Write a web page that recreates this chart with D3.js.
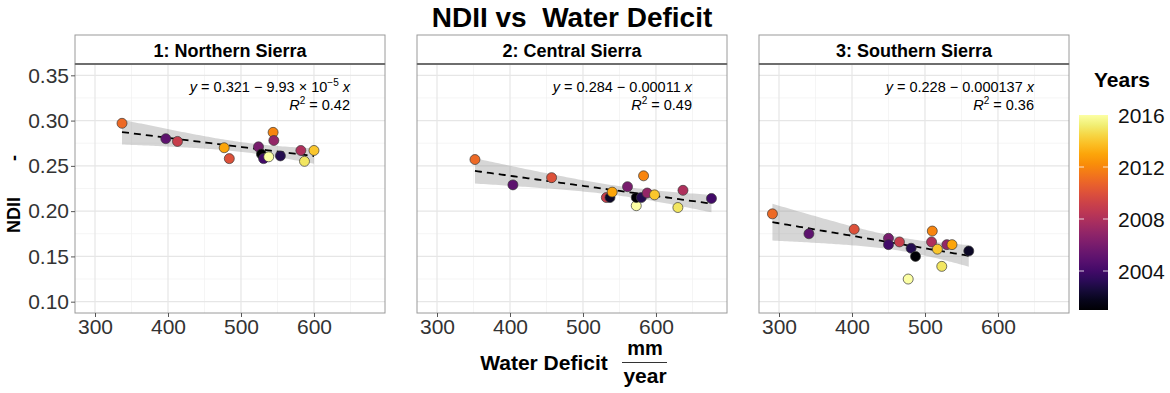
<!DOCTYPE html>
<html>
<head>
<meta charset="utf-8">
<script src="https://cdn.jsdelivr.net/npm/d3@7"></script>
<style>
  body { margin: 0; background: #fff; }
  text { font-family: "Liberation Sans", Arial, sans-serif; }
</style>
</head>
<body>
<div id="chart"></div>
<script>
// Data
var regions = ["1: Northern Sierra", "2: Central Sierra", "3: Southern Sierra"];

var deficit1 = [337, 397, 413, 477, 484, 524, 528, 531, 538, 544, 545, 554, 582, 587, 600];
var ndii1    = [0.297, 0.280, 0.277, 0.270, 0.258, 0.271, 0.263, 0.258, 0.260, 0.287, 0.278, 0.261, 0.267, 0.255, 0.267];
var year1    = [2011, 2005, 2009, 2013, 2010, 2006, 2001, 2004, 2016, 2012, 2007, 2003, 2008, 2015, 2014];

var deficit2 = [352, 404, 457, 532, 537, 540, 561, 573, 573, 580, 583, 588, 598, 630, 637, 676];
var ndii2    = [0.257, 0.229, 0.237, 0.215, 0.215, 0.221, 0.227, 0.206, 0.215, 0.215, 0.239, 0.220, 0.218, 0.204, 0.223, 0.214];
var year2    = [2011, 2005, 2010, 2009, 2002, 2013, 2006, 2016, 2001, 2003, 2012, 2007, 2014, 2015, 2008, 2004];

var deficit3 = [291, 341, 403, 450, 450, 465, 477, 481, 487, 509, 510, 517, 523, 530, 537, 560];
var ndii3    = [0.197, 0.175, 0.180, 0.170, 0.163, 0.166, 0.125, 0.159, 0.150, 0.166, 0.178, 0.158, 0.139, 0.163, 0.163, 0.156];
var year3    = [2011, 2005, 2010, 2006, 2004, 2009, 2016, 2003, 2001, 2008, 2012, 2014, 2015, 2007, 2013, 2002];

var eqIntercept = ["0.321", "0.284", "0.228"];
var eqSlope     = [["9.93", "\u22125"], ["0.00011", null], ["0.000137", null]];
var rSquared    = ["0.42", "0.49", "0.36"];

var xTicks = [300, 400, 500, 600];
var yTicks = [0.10, 0.15, 0.20, 0.25, 0.30, 0.35];
var yearTicks = [2004, 2008, 2012, 2016];

// layout
var W = 1170, H = 393;
var panelLeft = [75, 417, 759], panelW = 310;
var plotTop = 64, plotBottom = 313, stripTop = 35;

var svg = d3.select("#chart").append("svg")
    .attr("width", W).attr("height", H);

var yScale = d3.scaleLinear().domain([0.0875, 0.3625]).range([plotBottom, plotTop]);
var color = d3.scaleSequential(d3.interpolateInferno).domain([2001, 2016]);

var tTable = {13: 2.160, 14: 2.145};

var panels = [
    { x: deficit1, y: ndii1, yr: year1 },
    { x: deficit2, y: ndii2, yr: year2 },
    { x: deficit3, y: ndii3, yr: year3 }
];

// title
svg.append("text")
    .attr("x", 572).attr("y", 27)
    .attr("text-anchor", "middle")
    .style("font-size", "28px").style("font-weight", "bold")
    .attr("xml:space", "preserve")
    .text("NDII vs  Water Deficit");

panels.forEach(function (p, i) {
    var x0 = panelLeft[i];
    var xScale = d3.scaleLinear().domain([272.6, 697.3]).range([x0, x0 + panelW]);
    var g = svg.append("g");

    // grid
    var minorX = [350, 450, 550, 650], minorY = [0.125, 0.175, 0.225, 0.275, 0.325];
    g.selectAll(".gxm").data(minorX).enter().append("line")
        .attr("x1", function (d) { return xScale(d); }).attr("x2", function (d) { return xScale(d); })
        .attr("y1", plotTop).attr("y2", plotBottom)
        .style("stroke", "#f2f2f2").style("stroke-width", 0.8);
    g.selectAll(".gym").data(minorY).enter().append("line")
        .attr("y1", function (d) { return yScale(d); }).attr("y2", function (d) { return yScale(d); })
        .attr("x1", x0).attr("x2", x0 + panelW)
        .style("stroke", "#f2f2f2").style("stroke-width", 0.8);
    g.selectAll(".gx").data(xTicks).enter().append("line")
        .attr("x1", function (d) { return xScale(d); }).attr("x2", function (d) { return xScale(d); })
        .attr("y1", plotTop).attr("y2", plotBottom)
        .style("stroke", "#e6e6e6").style("stroke-width", 1.2);
    g.selectAll(".gy").data(yTicks).enter().append("line")
        .attr("y1", function (d) { return yScale(d); }).attr("y2", function (d) { return yScale(d); })
        .attr("x1", x0).attr("x2", x0 + panelW)
        .style("stroke", "#e6e6e6").style("stroke-width", 1.2);

    // regression + confidence band
    var n = p.x.length;
    var mx = d3.mean(p.x), my = d3.mean(p.y);
    var sxx = d3.sum(p.x, function (d) { return (d - mx) * (d - mx); });
    var sxy = d3.sum(p.x, function (d, k) { return (d - mx) * (p.y[k] - my); });
    var b = sxy / sxx, a = my - b * mx;
    var sse = d3.sum(p.x, function (d, k) { var r = p.y[k] - (a + b * d); return r * r; });
    var s = Math.sqrt(sse / (n - 2));
    var t = tTable[n - 2] || 2.15;
    var xs = d3.range(0, 81).map(function (k) {
        return d3.min(p.x) + k / 80 * (d3.max(p.x) - d3.min(p.x));
    });
    var band = xs.map(function (xv) {
        var fit = a + b * xv;
        var se = s * Math.sqrt(1 / n + (xv - mx) * (xv - mx) / sxx);
        return { x: xv, lo: fit - t * se, hi: fit + t * se, fit: fit };
    });
    g.append("path").datum(band)
        .attr("d", d3.area()
            .x(function (d) { return xScale(d.x); })
            .y0(function (d) { return yScale(d.lo); })
            .y1(function (d) { return yScale(d.hi); }))
        .style("fill", "#999999").style("fill-opacity", 0.4);
    g.append("path").datum(band)
        .attr("d", d3.line()
            .x(function (d) { return xScale(d.x); })
            .y(function (d) { return yScale(d.fit); }))
        .style("fill", "none").style("stroke", "#000").style("stroke-width", 1.8)
        .style("stroke-dasharray", "7,5");

    // points
    var pts = p.x.map(function (d, k) { return { x: d, y: p.y[k], yr: p.yr[k] }; });
    g.selectAll("circle").data(pts).enter().append("circle")
        .attr("cx", function (d) { return xScale(d.x); })
        .attr("cy", function (d) { return yScale(d.y); })
        .attr("r", 5)
        .style("fill", function (d) { return color(d.yr); })
        .style("stroke", "#3a3a3a").style("stroke-width", 0.7);

    // equation labels
    var ex = x0 + panelW - 35;
    var eq = g.append("text").attr("x", ex).attr("y", 92)
        .attr("text-anchor", "end").style("font-size", "14.5px");
    eq.append("tspan").style("font-style", "italic").text("y");
    eq.append("tspan").text(" = " + eqIntercept[i] + " \u2212 " + eqSlope[i][0]);
    if (eqSlope[i][1]) {
        eq.append("tspan").text(" \u00d7 10");
        eq.append("tspan").attr("dy", -6).style("font-size", "10px").text(eqSlope[i][1]);
        eq.append("tspan").attr("dy", 6).text(" ");
    } else {
        eq.append("tspan").text(" ");
    }
    eq.append("tspan").style("font-style", "italic").text("x");

    var r2 = g.append("text").attr("x", ex).attr("y", 110)
        .attr("text-anchor", "end").style("font-size", "14.5px");
    r2.append("tspan").style("font-style", "italic").text("R");
    r2.append("tspan").attr("dy", -6).style("font-size", "10px").text("2");
    r2.append("tspan").attr("dy", 6).text(" = " + rSquared[i]);

    // panel border
    g.append("rect").attr("x", x0).attr("y", plotTop).attr("width", panelW).attr("height", plotBottom - plotTop)
        .style("fill", "none").style("stroke", "#9a9a9a").style("stroke-width", 1);

    // strip
    g.append("rect").attr("x", x0).attr("y", stripTop).attr("width", panelW).attr("height", plotTop - stripTop)
        .style("fill", "#fff").style("stroke", "#9a9a9a").style("stroke-width", 1);
    g.append("line").attr("x1", x0).attr("x2", x0 + panelW).attr("y1", plotTop).attr("y2", plotTop)
        .style("stroke", "#6e6e6e").style("stroke-width", 2);
    g.append("text").attr("x", x0 + panelW / 2).attr("y", 57)
        .attr("text-anchor", "middle")
        .style("font-size", "18px").style("font-weight", "bold")
        .text(regions[i]);

    // x axis
    var xAxis = d3.axisBottom(xScale).tickValues(xTicks).tickSize(4).tickSizeOuter(0).tickPadding(2);
    var ax = g.append("g").attr("transform", "translate(0," + plotBottom + ")").call(xAxis);
    ax.select(".domain").remove();
    ax.selectAll("line").style("stroke", "#555");
    ax.selectAll("text").style("font-size", "21px").style("fill", "#333")
        .style("font-family", "'Liberation Sans', Arial, sans-serif");

    // y axis on first panel only
    if (i === 0) {
        var yAxis = d3.axisLeft(yScale).tickValues(yTicks).tickFormat(d3.format(".2f"))
            .tickSize(4).tickSizeOuter(0).tickPadding(2);
        var ay = g.append("g").attr("transform", "translate(" + x0 + ",0)").call(yAxis);
        ay.select(".domain").remove();
        ay.selectAll("line").style("stroke", "#555");
        ay.selectAll("text").style("font-size", "21px").style("fill", "#333")
            .style("font-family", "'Liberation Sans', Arial, sans-serif");
    }
});

// y-axis title
var yl = svg.append("g").attr("transform", "translate(20,188) rotate(-90)");
yl.append("text").attr("x", -27).attr("y", 0).attr("text-anchor", "middle")
    .style("font-size", "18px").style("font-weight", "bold").text("NDII");
yl.append("text").attr("x", 30).attr("y", 0).attr("text-anchor", "middle")
    .style("font-size", "18px").style("font-weight", "bold").text("-");

// x-axis title
svg.append("text").attr("x", 544).attr("y", 370).attr("text-anchor", "middle")
    .style("font-size", "21px").style("font-weight", "bold").text("Water Deficit");
svg.append("text").attr("x", 645).attr("y", 355).attr("text-anchor", "middle")
    .style("font-size", "20px").style("font-weight", "bold").text("mm");
svg.append("line").attr("x1", 622).attr("x2", 667).attr("y1", 362.5).attr("y2", 362.5)
    .style("stroke", "#333").style("stroke-width", 1);
svg.append("text").attr("x", 645).attr("y", 383).attr("text-anchor", "middle")
    .style("font-size", "21px").style("font-weight", "bold").text("year");

// legend
var legY = d3.scaleLinear().domain([2001, 2016]).range([310, 115]);
var defs = svg.append("defs");
var grad = defs.append("linearGradient").attr("id", "yearGrad")
    .attr("x1", "0%").attr("y1", "100%").attr("x2", "0%").attr("y2", "0%");
d3.range(0, 21).forEach(function (k) {
    grad.append("stop").attr("offset", (k / 20 * 100) + "%")
        .attr("stop-color", color(2001 + k / 20 * 15));
});
svg.append("text").attr("x", 1122).attr("y", 87).attr("text-anchor", "middle")
    .style("font-size", "21px").style("font-weight", "bold").text("Years");
svg.append("rect").attr("x", 1079).attr("y", legY(2016)).attr("width", 29)
    .attr("height", legY(2001) - legY(2016)).style("fill", "url(#yearGrad)");
yearTicks.forEach(function (yv) {
    if (yv < 2016) {
        svg.append("line").attr("x1", 1079).attr("x2", 1084).attr("y1", legY(yv)).attr("y2", legY(yv))
            .style("stroke", "#fff").style("stroke-opacity", 0.8);
        svg.append("line").attr("x1", 1103).attr("x2", 1108).attr("y1", legY(yv)).attr("y2", legY(yv))
            .style("stroke", "#fff").style("stroke-opacity", 0.8);
    }
    svg.append("text").attr("x", 1118).attr("y", legY(yv) + 7.5)
        .style("font-size", "21px").style("fill", "#111").text(yv);
});
</script>
</body>
</html>
